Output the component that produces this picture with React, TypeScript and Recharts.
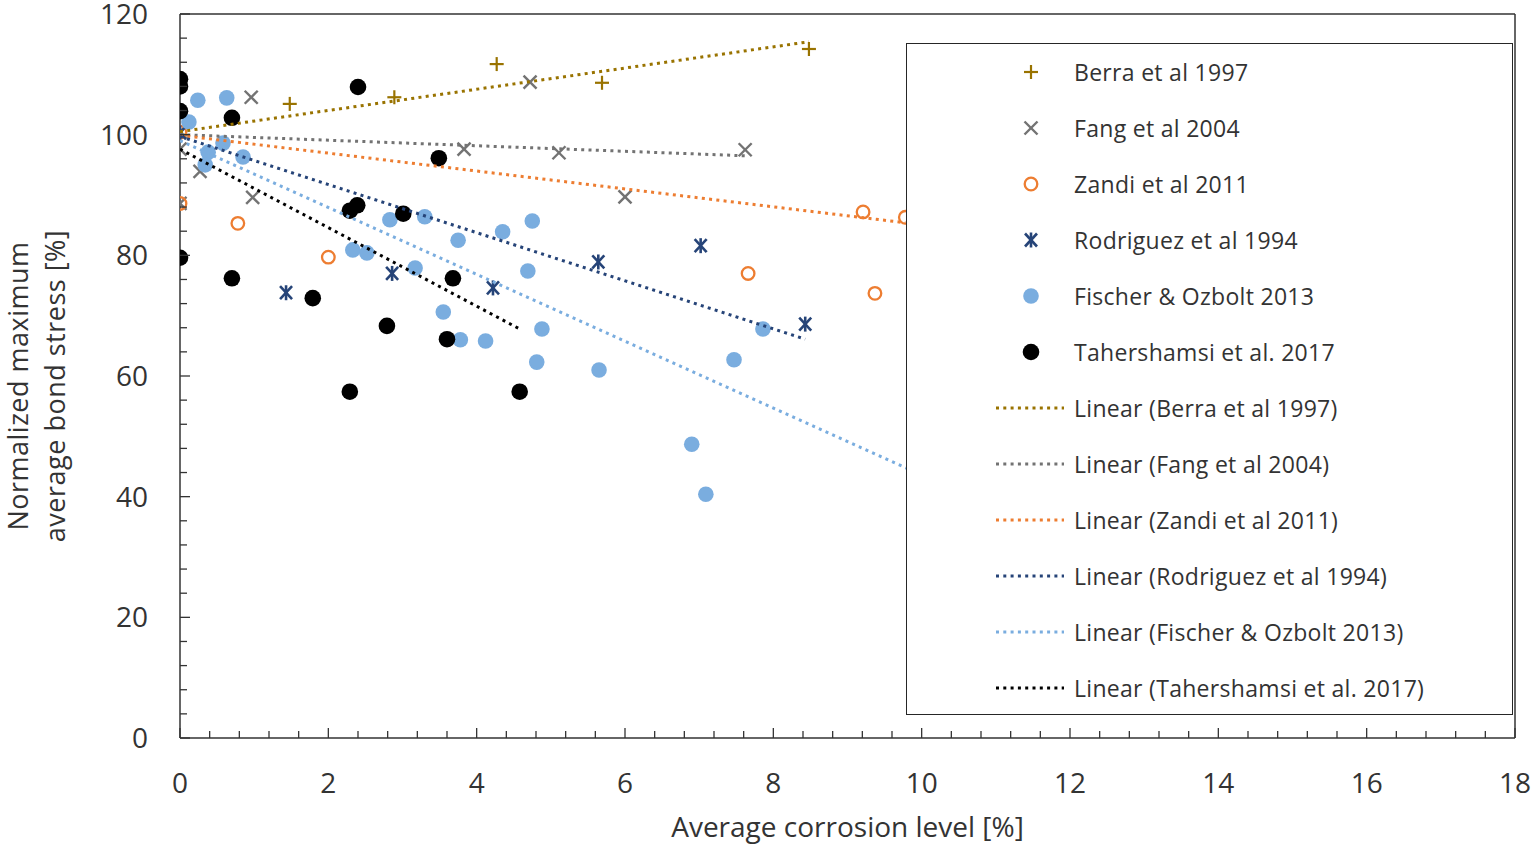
import React from 'react';
import {
  ScatterChart,
  Scatter,
  XAxis,
  YAxis,
  ReferenceLine,
  Legend,
} from 'recharts';

const FONT = '"Open Sans", "Noto Sans", sans-serif';
const TEXT = '#333';

// measured values (x = corrosion level %, y = normalized bond stress %)
const berraX = [0, 1.48, 2.89, 4.27, 5.69, 8.48];
const berraY = [100, 105.1, 106.2, 111.7, 108.6, 114.2];

const fangX = [0, 0, 0, 0.27, 0.96, 0.98, 3.83, 4.72, 5.11, 6.0, 7.62];
const fangY = [100.5, 97.6, 88.6, 93.9, 106.2, 89.6, 97.6, 108.7, 97.0, 89.7, 97.5];

const zandiX = [0, 0, 0.78, 2.0, 3.61, 7.66, 9.21, 9.37, 9.78];
const zandiY = [100.4, 88.6, 85.3, 79.7, 66.1, 77.0, 87.2, 73.7, 86.3];

const rodriguezX = [0, 1.43, 2.86, 4.22, 5.64, 7.02, 8.43];
const rodriguezY = [100.3, 73.8, 77.0, 74.6, 78.9, 81.6, 68.6];

const fischerX = [
  0.12, 0.24, 0.63, 0.58, 0.38, 0.34, 0.85, 2.83, 3.3, 3.75, 2.33, 2.52, 3.17,
  3.55, 3.78, 4.35, 4.75, 4.69, 4.12, 4.88, 4.81, 5.65, 7.47, 7.86, 6.9, 7.09,
];
const fischerY = [
  102.1, 105.7, 106.1, 98.6, 97.1, 95.0, 96.3, 85.9, 86.4, 82.5, 80.9, 80.4, 77.9,
  70.6, 66.0, 83.9, 85.7, 77.4, 65.8, 67.8, 62.3, 61.0, 62.7, 67.8, 48.7, 40.4,
];

const taherX = [
  0, 0, 0, 0, 0.7, 2.4, 3.49, 2.29, 2.39, 3.01, 0.7, 1.79, 2.79, 3.68, 3.6, 2.29, 4.58,
];
const taherY = [
  109.2, 108.0, 103.9, 79.6, 102.8, 107.9, 96.1, 87.4, 88.3, 86.9, 76.2, 72.9, 68.3,
  76.2, 66.1, 57.4, 57.4,
];

// linear trend line end points as drawn
const berraTrend = [[0, 100.5], [8.48, 115.4]];
const fangTrend = [[0, 100.0], [7.62, 96.5]];
const zandiTrend = [[0, 99.9], [9.78, 85.4]];
const rodriguezTrend = [[0, 99.7], [8.43, 66.1]];
const fischerTrend = [[0, 99.0], [9.8, 44.7]];
const taherTrend = [[0, 97.6], [4.58, 67.8]];

const xMajorTicks = [0, 2, 4, 6, 8, 10, 12, 14, 16, 18];
const yMajorTicks = [0, 20, 40, 60, 80, 100, 120];
const xMinorStep = 0.4;
const yMinorStep = 4;

const zip = (xs: number[], ys: number[]) => xs.map((x, i) => ({ x, y: ys[i] }));
const pairs = (p: number[][]) => p.map(([x, y]) => ({ x, y }));

type Kind = 'plus' | 'x' | 'ring' | 'star' | 'dot';

const series = [
  { name: 'Berra et al 1997', kind: 'plus' as Kind, color: '#997300', data: zip(berraX, berraY), trend: pairs(berraTrend) },
  { name: 'Fang et al 2004', kind: 'x' as Kind, color: '#737373', data: zip(fangX, fangY), trend: pairs(fangTrend) },
  { name: 'Zandi et al 2011', kind: 'ring' as Kind, color: '#ED7D31', data: zip(zandiX, zandiY), trend: pairs(zandiTrend) },
  { name: 'Rodriguez et al 1994', kind: 'star' as Kind, color: '#264478', data: zip(rodriguezX, rodriguezY), trend: pairs(rodriguezTrend) },
  { name: 'Fischer & Ozbolt 2013', kind: 'dot' as Kind, color: '#7AADDF', data: zip(fischerX, fischerY), trend: pairs(fischerTrend) },
  { name: 'Tahershamsi et al. 2017', kind: 'dot' as Kind, color: '#000000', data: zip(taherX, taherY), trend: pairs(taherTrend) },
];

const DASH = { strokeWidth: 3, strokeDasharray: '3 4.3' };

function Marker({ kind, cx, cy, color }: { kind: Kind; cx: number; cy: number; color: string }) {
  const s = 7;
  if (kind === 'plus') {
    return (
      <g stroke={color} strokeWidth={2.2}>
        <line x1={cx - s} y1={cy} x2={cx + s} y2={cy} />
        <line x1={cx} y1={cy - s} x2={cx} y2={cy + s} />
      </g>
    );
  }
  if (kind === 'x') {
    return (
      <g stroke={color} strokeWidth={2.4}>
        <line x1={cx - 6.5} y1={cy - 6.5} x2={cx + 6.5} y2={cy + 6.5} />
        <line x1={cx - 6.5} y1={cy + 6.5} x2={cx + 6.5} y2={cy - 6.5} />
      </g>
    );
  }
  if (kind === 'ring') {
    return <circle cx={cx} cy={cy} r={6.3} fill="none" stroke={color} strokeWidth={2.3} />;
  }
  if (kind === 'star') {
    return (
      <g stroke={color} strokeWidth={2.6}>
        <line x1={cx - 6} y1={cy - 6.5} x2={cx + 6} y2={cy + 6.5} />
        <line x1={cx - 6} y1={cy + 6.5} x2={cx + 6} y2={cy - 6.5} />
        <line x1={cx} y1={cy - 7.5} x2={cx} y2={cy + 7.5} />
      </g>
    );
  }
  return <circle cx={cx} cy={cy} r={color === '#000000' ? 8.3 : 7.8} fill={color} />;
}

const near = (v: number, step: number) => Math.abs(v / step - Math.round(v / step)) < 1e-6;

function XTick(props: any) {
  const { x, y, payload } = props;
  const major = xMajorTicks.some((t) => near(payload.value - t + 1000, 1000));
  return (
    <g>
      <line x1={x} y1={y} x2={x} y2={y - (major ? 10 : 7)} stroke={TEXT} strokeWidth={1.3} />
      {major && (
        <text x={x} y={y + 55} textAnchor="middle" fontSize={28} fontFamily={FONT} fill={TEXT}>
          {payload.value}
        </text>
      )}
    </g>
  );
}

function YTick(props: any) {
  const { x, y, payload } = props;
  const major = yMajorTicks.includes(payload.value);
  return (
    <g>
      <line x1={x} y1={y} x2={x + (major ? 10 : 7)} y2={y} stroke={TEXT} strokeWidth={1.3} />
      {major && (
        <text x={x - 32} y={y} dy="0.36em" textAnchor="end" fontSize={28} fontFamily={FONT} fill={TEXT}>
          {payload.value}
        </text>
      )}
    </g>
  );
}

function YTitle() {
  return (
    <text transform="translate(0,386) rotate(-90)" textAnchor="middle" fontSize={27} letterSpacing={0.5} fontFamily={FONT} fill={TEXT}>
      <tspan x={0} y={28}>Normalized maximum</tspan>
      <tspan x={0} y={65}>average bond stress [%]</tspan>
    </text>
  );
}

function LegendBox() {
  const rows: { label: string; kind: Kind | 'line'; color: string }[] = [
    ...series.map((s) => ({ label: s.name, kind: s.kind as Kind | 'line', color: s.color })),
    ...series.map((s) => ({ label: `Linear (${s.name})`, kind: 'line' as const, color: s.color })),
  ];
  return (
    <div
      style={{
        position: 'relative',
        width: 607,
        height: 672,
        boxSizing: 'border-box',
        border: '1.5px solid #262626',
        background: '#fff',
        fontFamily: FONT,
        fontSize: 23,
        letterSpacing: 0.3,
        color: TEXT,
      }}
    >
      {rows.map((r, i) => (
        <div key={i} style={{ position: 'absolute', left: 0, top: i * 56, height: 56, display: 'flex', alignItems: 'center' }}>
          <svg width={167} height={56} style={{ display: 'block' }}>
            {r.kind === 'line' ? (
              <line x1={89} y1={28} x2={157} y2={28} stroke={r.color} {...DASH} />
            ) : (
              <Marker kind={r.kind} cx={124} cy={28} color={r.color} />
            )}
          </svg>
          <span style={{ whiteSpace: 'nowrap' }}>{r.label}</span>
        </div>
      ))}
    </div>
  );
}

export default function App() {
  return (
    <div style={{ position: 'absolute', left: 0, top: 0, background: '#fff' }}>
      <ScatterChart width={1536} height={846} margin={{ top: 14, right: 21, left: 0, bottom: 0 }}>
        <XAxis
          type="number"
          dataKey="x"
          domain={[0, 18]}
          ticks={Array.from({ length: 46 }, (_, i) => +(i * xMinorStep).toFixed(1))}
          interval={0}
          tickSize={0}
          tickMargin={0}
          tick={(p: any) => <XTick {...p} />}
          axisLine={{ stroke: TEXT, strokeWidth: 1.5 }}
          height={108}
          allowDataOverflow
          label={{
            value: 'Average corrosion level [%]',
            position: 'insideBottom',
            offset: 9,
            fontSize: 28,
            fontFamily: FONT,
            fill: TEXT,
          }}
        />
        <YAxis
          type="number"
          dataKey="y"
          domain={[0, 120]}
          ticks={Array.from({ length: 31 }, (_, i) => i * yMinorStep)}
          interval={0}
          tickSize={0}
          tickMargin={0}
          tick={(p: any) => <YTick {...p} />}
          axisLine={{ stroke: TEXT, strokeWidth: 1.5 }}
          width={180}
          allowDataOverflow
          label={{ content: () => <YTitle /> }}
        />
        <ReferenceLine y={120} stroke={TEXT} strokeWidth={1.5} />
        <ReferenceLine x={18} stroke={TEXT} strokeWidth={1.5} />
        {series.map((s) => (
          <Scatter
            key={s.name}
            name={s.name}
            data={s.data}
            fill={s.color}
            isAnimationActive={false}
            shape={(p: any) => <Marker kind={s.kind} cx={p.cx} cy={p.cy} color={s.color} />}
          />
        ))}
        {series.map((s) => (
          <Scatter
            key={'trend-' + s.name}
            name={'Linear (' + s.name + ')'}
            data={s.trend}
            fill={s.color}
            isAnimationActive={false}
            line={{ stroke: s.color, ...DASH }}
            shape={() => <g />}
          />
        ))}
        <Legend
          layout="vertical"
          align="center"
          verticalAlign="middle"
          wrapperStyle={{ left: 906, top: 43, width: 607, height: 672 }}
          content={() => <LegendBox />}
        />
      </ScatterChart>
    </div>
  );
}
